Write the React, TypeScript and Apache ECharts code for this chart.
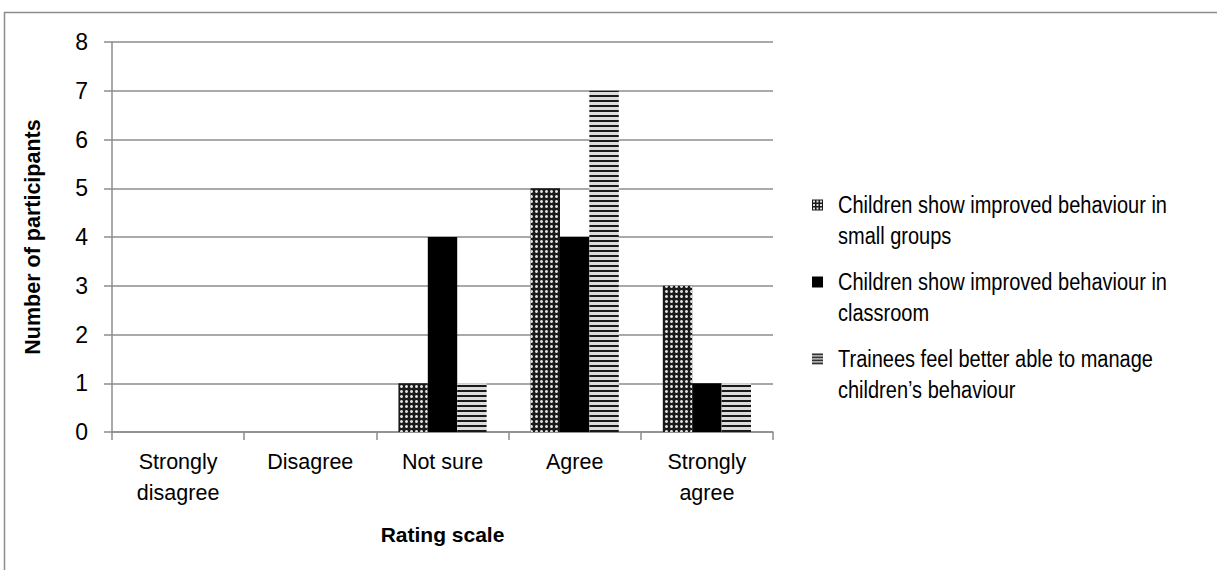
import React, { useEffect, useRef } from "react";
import * as echarts from "echarts";

const categories = ["Strongly\ndisagree", "Disagree", "Not sure", "Agree", "Strongly\nagree"];
const seriesNames = [
  "Children show improved behaviour in\nsmall groups",
  "Children show improved behaviour in\nclassroom",
  "Trainees feel better able to manage\nchildren\u2019s behaviour",
];
const smallGroups = [0, 0, 1, 5, 3];
const classroom = [0, 0, 4, 4, 1];
const trainees = [0, 0, 1, 7, 1];
const yTicks = [0, 1, 2, 3, 4, 5, 6, 7, 8];

const FONT = "'Liberation Sans', Arial, sans-serif";
const GRID = "#8c8c8c";

export default function App() {
  const ref = useRef<HTMLDivElement>(null);
  useEffect(() => {
    if (!ref.current) return;
    const chart = echarts.init(ref.current, undefined, { renderer: "svg" });
    const legendX = 812;
    const legendTop = 205;
    const legendStep = 77;
    const legendGraphics: any[] = [];
    seriesNames.forEach((name, i) => {
      const cy = legendTop + i * legendStep;
      legendGraphics.push({
        type: "text",
        x: legendX + 26,
        y: cy - 15.5,
        scaleY: 1.15,
        originX: 0,
        originY: 0,
        style: { text: name, font: `20px ${FONT}`, fill: "#000", lineHeight: 27 },
      });
      const s = 11;
      const top = cy - s / 2;
      if (i === 0) {
        legendGraphics.push({ type: "rect", shape: { x: legendX, y: top, width: s, height: s }, style: { fill: "#1a1a1a" } });
        [[1, 1], [4.5, 1], [8, 1], [1, 4.5], [4.5, 4.5], [8, 4.5], [1, 8], [4.5, 8], [8, 8]].forEach(([dx, dy]) => {
          legendGraphics.push({ type: "rect", shape: { x: legendX + dx, y: top + dy, width: 2, height: 2 }, style: { fill: "#ddd" } });
        });
      } else if (i === 1) {
        legendGraphics.push({ type: "rect", shape: { x: legendX, y: top, width: s, height: s }, style: { fill: "#000" } });
      } else {
        legendGraphics.push({ type: "rect", shape: { x: legendX, y: top, width: s, height: s }, style: { fill: "#e0e0e0" } });
        [0, 3, 6, 9].forEach((dy) => {
          legendGraphics.push({ type: "rect", shape: { x: legendX, y: top + dy, width: s, height: 1.8 }, style: { fill: "#333" } });
        });
      }
    });

    const option: any = {
      animation: false,
      backgroundColor: "#fff",
      textStyle: { fontFamily: FONT },
      grid: { left: 112, top: 42, right: 444, bottom: 138, containLabel: false },
      xAxis: {
        type: "category",
        data: categories,
        name: "Rating scale",
        nameLocation: "middle",
        nameGap: 92,
        nameTextStyle: { fontFamily: FONT, fontSize: 21, fontWeight: "bold", color: "#000" },
        axisLine: { lineStyle: { color: GRID, width: 1.5 } },
        axisTick: { show: true, length: 8, lineStyle: { color: GRID, width: 1.5 } },
        axisLabel: { fontFamily: FONT, fontSize: 21.5, color: "#000", lineHeight: 31, margin: 14, interval: 0 },
      },
      yAxis: {
        type: "value",
        min: yTicks[0],
        max: yTicks[yTicks.length - 1],
        interval: 1,
        name: "Number of participants",
        nameLocation: "middle",
        nameGap: 68,
        nameTextStyle: { fontFamily: FONT, fontSize: 21.5, fontWeight: "bold", color: "#000" },
        axisLine: { show: true, lineStyle: { color: GRID, width: 1.5 } },
        axisTick: { show: true, length: 8, lineStyle: { color: GRID, width: 1.5 } },
        axisLabel: { fontFamily: FONT, fontSize: 23, color: "#000", margin: 24 },
        splitLine: { show: true, lineStyle: { color: GRID, width: 1.5 } },
      },
      series: [
        {
          name: seriesNames[0],
          type: "bar",
          data: smallGroups,
          barGap: "0%",
          barCategoryGap: "33.3%",
          itemStyle: {
            color: "#1a1a1a",
            decal: {
              symbol: "circle",
              symbolSize: 1,
              color: "#e0e0e0",
              dashArrayX: [3, 2],
              dashArrayY: [3, 2],
              rotation: 0,
            },
          },
        },
        {
          name: seriesNames[1],
          type: "bar",
          data: classroom,
          barGap: "0%",
          barCategoryGap: "33.3%",
          itemStyle: { color: "#000" },
        },
        {
          name: seriesNames[2],
          type: "bar",
          data: trainees,
          barGap: "0%",
          barCategoryGap: "33.3%",
          itemStyle: {
            color: "#dcdcdc",
            decal: {
              symbol: "rect",
              symbolSize: 1,
              color: "#1a1a1a",
              dashArrayX: [1, 0],
              dashArrayY: [2, 3],
              rotation: 0,
            },
          },
        },
      ],
      graphic: [
        {
          type: "rect",
          shape: { x: 4.5, y: 12.5, width: 1400, height: 800 },
          style: { fill: "none", stroke: "#8c8c8c", lineWidth: 1.5 },
          silent: true,
        },
        ...legendGraphics,
      ],
    };
    chart.setOption(option);
    return () => chart.dispose();
  }, []);
  return <div ref={ref} style={{ position: "absolute", left: 0, top: 0, width: 1217, height: 570 }} />;
}
